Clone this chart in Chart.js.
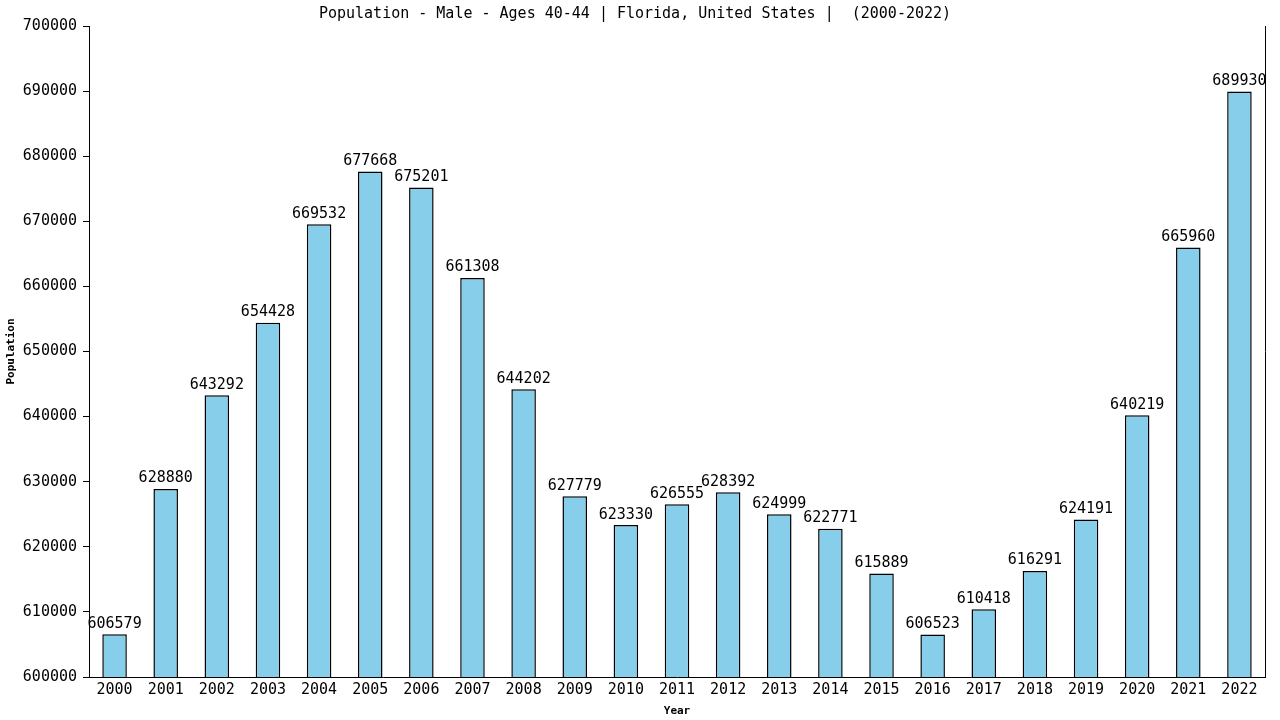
<!DOCTYPE html>
<html>
<head>
<meta charset="utf-8">
<script src="https://cdn.jsdelivr.net/npm/chart.js@4.4.0/dist/chart.umd.min.js"></script>
<style>
html,body{margin:0;padding:0;background:#fff;}
#wrap{width:1280px;height:720px;position:relative;}
</style>
</head>
<body>
<div id="wrap"><canvas id="c" width="1280" height="720"></canvas></div>
<script>
const years = ["2000","2001","2002","2003","2004","2005","2006","2007","2008","2009","2010","2011","2012","2013","2014","2015","2016","2017","2018","2019","2020","2021","2022"];
const population = [606579,628880,643292,654428,669532,677668,675201,661308,644202,627779,623330,626555,628392,624999,622771,615889,606523,610418,616291,624191,640219,665960,689930];
const yMin = 600000, yMax = 700000, yStep = 10000;
const titleText = "Population - Male - Ages 40-44 | Florida, United States |  (2000-2022)";
const xTitle = "Year";
const yTitle = "Population";

const FONT = "'DejaVu Sans Mono', 'Liberation Mono', monospace";

const valueLabels = {
  id: 'valueLabels',
  afterDatasetsDraw(chart) {
    const ctx = chart.ctx;
    const meta = chart.getDatasetMeta(0);
    ctx.save();
    ctx.font = "15px " + FONT;
    ctx.fillStyle = "#000";
    ctx.textAlign = "center";
    ctx.textBaseline = "bottom";
    meta.data.forEach((bar, i) => {
      ctx.fillText(String(population[i]), bar.x, bar.y - 3);
    });
    ctx.restore();
  }
};
const frame = {
  id: 'frame',
  afterDraw(chart) {
    const {ctx, chartArea} = chart;
    ctx.save();
    ctx.strokeStyle = "#000";
    ctx.lineWidth = 1;
    ctx.beginPath();
    ctx.moveTo(Math.round(chartArea.right) + 0.5, chartArea.top);
    ctx.lineTo(Math.round(chartArea.right) + 0.5, chartArea.bottom);
    ctx.stroke();
    ctx.restore();
  }
};

new Chart(document.getElementById('c'), {
  type: 'bar',
  data: {
    labels: years,
    datasets: [{
      data: population,
      backgroundColor: '#87CEEB',
      borderColor: '#000',
      borderWidth: 1.5,
      barPercentage: 0.48,
      categoryPercentage: 1.0
    }]
  },
  options: {
    responsive: false,
    animation: false,
    devicePixelRatio: 1,
    layout: { padding: { left: 5, right: 15, top: 0, bottom: 0 } },
    plugins: {
      legend: { display: false },
      tooltip: { enabled: false },
      title: {
        display: true,
        text: titleText,
        color: '#000',
        font: { family: FONT, size: 15, weight: 'normal' },
        padding: { top: 5, bottom: 3 }
      }
    },
    scales: {
      x: {
        grid: { display: false, drawTicks: false },
        border: { display: true, color: '#000', width: 1 },
        ticks: { color: '#000', font: { family: FONT, size: 15 }, padding: 4, maxRotation: 0, autoSkip: false },
        title: { display: true, text: xTitle, color: '#000', font: { family: FONT, size: 11, weight: 'bold' }, padding: { top: 2, bottom: 2 } },
        afterFit(scale) { scale.height = 43; }
      },
      y: {
        min: yMin,
        max: yMax,
        grid: { display: true, drawOnChartArea: false, drawTicks: true, tickLength: 6, color: '#000' },
        border: { display: true, color: '#000', width: 1 },
        ticks: { stepSize: yStep, color: '#000', font: { family: FONT, size: 15 }, padding: 6, callback: v => String(v) },
        title: { display: true, text: yTitle, color: '#000', font: { family: FONT, size: 11, weight: 'bold' }, padding: { top: 0, bottom: 2 } },
        afterFit(scale) { scale.width = 84; }
      }
    }
  },
  plugins: [valueLabels, frame]
});
</script>
</body>
</html>
